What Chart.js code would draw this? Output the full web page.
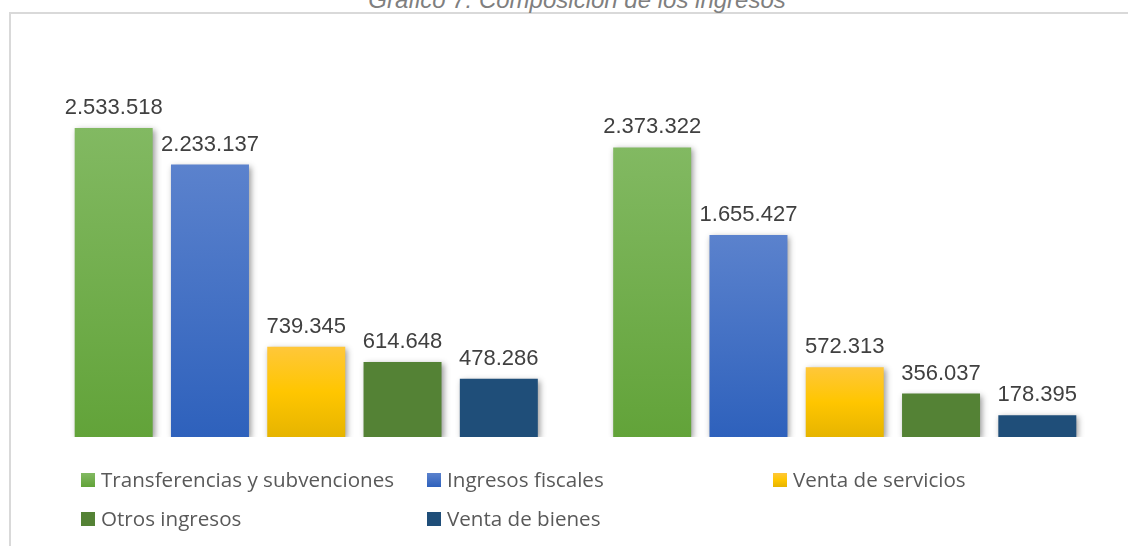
<!DOCTYPE html>
<html>
<head>
<meta charset="utf-8">
<script src="https://cdn.jsdelivr.net/npm/chart.js@4/dist/chart.umd.min.js"></script>
<style>
  html, body { margin: 0; padding: 0; background: #fff; overflow: hidden; }
  #wrap { position: relative; width: 1128px; height: 546px; }
  #frame { position: absolute; left: 9px; top: 12px; width: 1200px; height: 600px;
           border-left: 2px solid #d9d9d9; border-top: 2px solid #d9d9d9; }
  #title { position: absolute; left: 0; width: 1154px; top: -12px; text-align: center;
           font: italic 24px "Liberation Sans", Arial, sans-serif; line-height: 24px; color: #7f7f7f; }
  canvas { position: absolute; left: 0; top: 0; }
  .item { position: absolute; font: 20.6px "Open Sans", sans-serif; line-height: 20px; color: #595959; white-space: nowrap; }
  .item i { position: absolute; left: -20px; top: 4px; width: 14px; height: 14px; }
</style>
</head>
<body>
<div id="wrap">
  <div id="frame"></div>
  <div id="title">Gráfico 7: Composición de los ingresos</div>
  <canvas id="chart" width="1128" height="546"></canvas>
  <div id="legend"></div>
</div>
<script>
const categories = ['1', '2'];
const seriesNames = ['Transferencias y subvenciones', 'Ingresos fiscales', 'Venta de servicios', 'Otros ingresos', 'Venta de bienes'];
const transferencias = [2533518, 2373322];
const ingresosFiscales = [2233137, 1655427];
const ventaServicios = [739345, 572313];
const otrosIngresos = [614648, 356037];
const ventaBienes = [478286, 178395];

// top -> bottom colour stops for each series
const stops = [
  ['#82b962', '#62a339'],
  ['#5b82cd', '#2e61bc'],
  ['#ffc73a', '#ffc600', '#e6b400'],
  ['#548235', '#548235'],
  ['#1f4e79', '#1f4e79']
];

function fmt(v) {
  return String(v).replace(/\B(?=(\d{3})+(?!\d))/g, '.');
}

function barFill(i) {
  return function (c) {
    const chart = c.chart;
    if (!chart.chartArea || c.type !== 'data') return stops[i][0];
    const y = chart.scales.y;
    const top = y.getPixelForValue(c.raw);
    const bottom = y.getPixelForValue(0);
    const g = chart.ctx.createLinearGradient(0, top, 0, bottom);
    const s = stops[i];
    s.forEach((col, k) => g.addColorStop(k / (s.length - 1), col));
    return g;
  };
}

const seriesData = [transferencias, ingresosFiscales, ventaServicios, otrosIngresos, ventaBienes];

const shadow = {
  id: 'shadow',
  beforeDatasetsDraw(chart) {
    const ctx = chart.ctx;
    ctx.save();
    ctx.shadowColor = 'rgba(0,0,0,0.4)';
    ctx.shadowBlur = 6;
    ctx.shadowOffsetX = 2;
    ctx.shadowOffsetY = 2;
  },
  afterDatasetsDraw(chart) {
    const ctx = chart.ctx;
    ctx.restore();
    ctx.save();
    ctx.font = '22px "Liberation Sans", Arial, sans-serif';
    ctx.fillStyle = '#404040';
    ctx.textAlign = 'center';
    ctx.textBaseline = 'alphabetic';
    chart.data.datasets.forEach((ds, i) => {
      chart.getDatasetMeta(i).data.forEach((el, j) => {
        ctx.fillText(fmt(ds.data[j]), el.x, el.y - 14);
      });
    });
    ctx.restore();
  }
};

new Chart(document.getElementById('chart'), {
  type: 'bar',
  data: {
    labels: categories,
    datasets: seriesNames.map((name, i) => ({
      label: name,
      data: seriesData[i],
      backgroundColor: barFill(i),
      borderWidth: 0,
      categoryPercentage: 0.894,
      barPercentage: 0.81
    }))
  },
  options: {
    responsive: false,
    animation: false,
    layout: { padding: { left: 37, right: 14, top: 71, bottom: 109 } },
    scales: {
      x: { display: false },
      y: { display: false, min: 0, max: 3000000 }
    },
    plugins: {
      legend: { display: false },
      tooltip: { enabled: false }
    }
  },
  plugins: [shadow]
});

// legend, laid out like the original
const legendPos = [[101, 469], [447, 469], [793, 469], [101, 508], [447, 508]];
const legend = document.getElementById('legend');
seriesNames.forEach((name, i) => {
  const d = document.createElement('div');
  d.className = 'item';
  d.style.left = legendPos[i][0] + 'px';
  d.style.top = legendPos[i][1] + 'px';
  const m = document.createElement('i');
  m.style.background = 'linear-gradient(' + stops[i].join(',') + ')';
  d.appendChild(m);
  d.appendChild(document.createTextNode(name));
  legend.appendChild(d);
});
</script>
</body>
</html>
